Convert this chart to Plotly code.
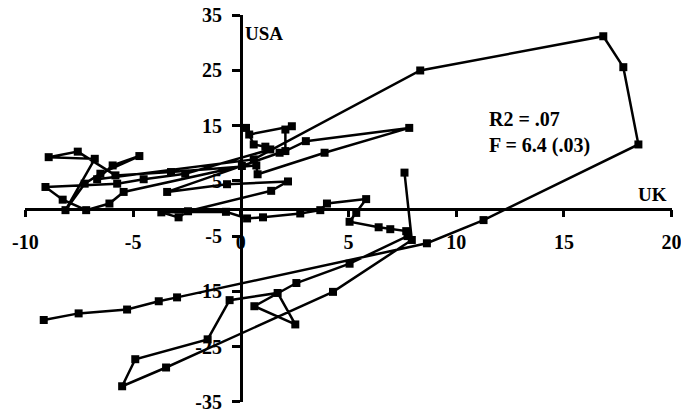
import plotly.graph_objects as go

# UK vs USA path (in path order)
uk = [-9.15, -7.53, -5.28, -3.81, -2.96, 8.64, 11.27, 18.46, 17.76, 16.83, 8.33,
      0.6, -6.67, -5.95, -4.71, -6.52, -7.25, -8.14, -6.78, -8.92, -7.57, -5.82, -3.24,
      0.72, 0.78, 3.89, 7.82, 3.02, 2.07, 2.07, 2.37, 0.39, 0.24, 0.6, 1.14, 1.37,
      -2.58, -4.51, -5.74, -9.07, -8.27, -7.18, -6.1, -5.44, 0.05, 1.8, -3.42, -0.64,
      2.19, 1.41, -2.45, -2.89, -3.69, -0.69, 0.29, 1.03, 2.76, 3.69, 4.0, 5.82, 5.36,
      5.05, 6.4, 6.94, 7.68, 7.74, 5.05, 2.58, 0.63, 2.53, 1.71, -0.52, -1.54, -4.9,
      -5.51, -3.47, 4.28, 7.94, 7.6]
usa = [-20.2, -19.0, -18.3, -16.8, -16.1, -6.3, -2.1, 11.6, 25.6, 31.2, 25.0,
       8.9, 5.3, 7.8, 9.5, 6.3, 4.5, -0.3, 9.0, 9.3, 10.3, 6.0, 6.6,
       7.8, 6.2, 10.1, 14.6, 12.2, 10.4, 14.3, 14.9, 13.4, 14.6, 11.6, 11.2, 10.7,
       6.3, 5.3, 4.5, 3.9, 1.6, -0.3, 0.9, 3.0, 7.7, 10.1, 3.0, 4.4,
       4.9, 3.2, -0.5, -1.6, -0.7, -0.6, -1.8, -1.6, -0.9, -0.3, 0.9, 1.7, -0.8,
       -2.4, -3.4, -3.75, -4.1, -5.0, -10.0, -13.5, -17.7, -21.0, -15.3, -16.6, -23.7, -27.3,
       -32.2, -28.8, -15.1, -5.7, 6.5]

x_ticks = [-10, -5, 0, 5, 10, 15, 20]
y_ticks = [-35, -25, -15, -5, 5, 15, 25, 35]
x_range = [-10.02, 20.02]
y_range = [-35.05, 35.05]

FONT = "Liberation Serif, Times New Roman, serif"

fig = go.Figure()
fig.add_trace(go.Scatter(
    x=uk, y=usa, mode="lines+markers",
    line=dict(color="black", width=2.5),
    marker=dict(symbol="square", size=8, color="black"),
    showlegend=False, hoverinfo="skip", cliponaxis=False))

fig.update_layout(
    width=681, height=412,
    margin=dict(l=25, r=9, t=15, b=10, autoexpand=False),
    paper_bgcolor="white", plot_bgcolor="white",
    xaxis=dict(range=x_range, tickvals=x_ticks, ticktext=[str(v) for v in x_ticks],
               anchor="free", position=0.5, showline=True, linecolor="black", linewidth=2.5,
               ticks="outside", ticklen=7, tickwidth=2.5, tickcolor="black",
               showgrid=False, zeroline=False, ticklabelstandoff=8,
               ticklabeloverflow="allow", automargin=False,
               tickfont=dict(family=FONT, size=20, color="black", weight="bold")),
    yaxis=dict(range=y_range, tickvals=y_ticks, ticktext=[str(v) for v in y_ticks],
               anchor="free", position=1/3, showline=True, linecolor="black", linewidth=2.5,
               ticks="outside", ticklen=8, tickwidth=2.5, tickcolor="black",
               showgrid=False, zeroline=False, ticklabelstandoff=6,
               ticklabeloverflow="allow", automargin=False,
               tickfont=dict(family=FONT, size=20, color="black", weight="bold")),
)

ann_font = dict(family=FONT, size=20, color="black", weight="bold")
fig.add_annotation(x=0.1, y=31.7, text="USA", showarrow=False, xanchor="left", yanchor="middle",
                   font=dict(family=FONT, size=19, color="black", weight="bold"))
fig.add_annotation(x=19.9, y=2.6, text="UK", showarrow=False, xanchor="right", yanchor="middle",
                   font=dict(family=FONT, size=19, color="black", weight="bold"))
fig.add_annotation(x=11.45, y=16.2, text="R2 = .07", showarrow=False, xanchor="left", yanchor="middle",
                   font=ann_font)
fig.add_annotation(x=11.45, y=11.4, text="F = 6.4 (.03)", showarrow=False, xanchor="left", yanchor="middle",
                   font=ann_font)

fig.write_html("out.html")
